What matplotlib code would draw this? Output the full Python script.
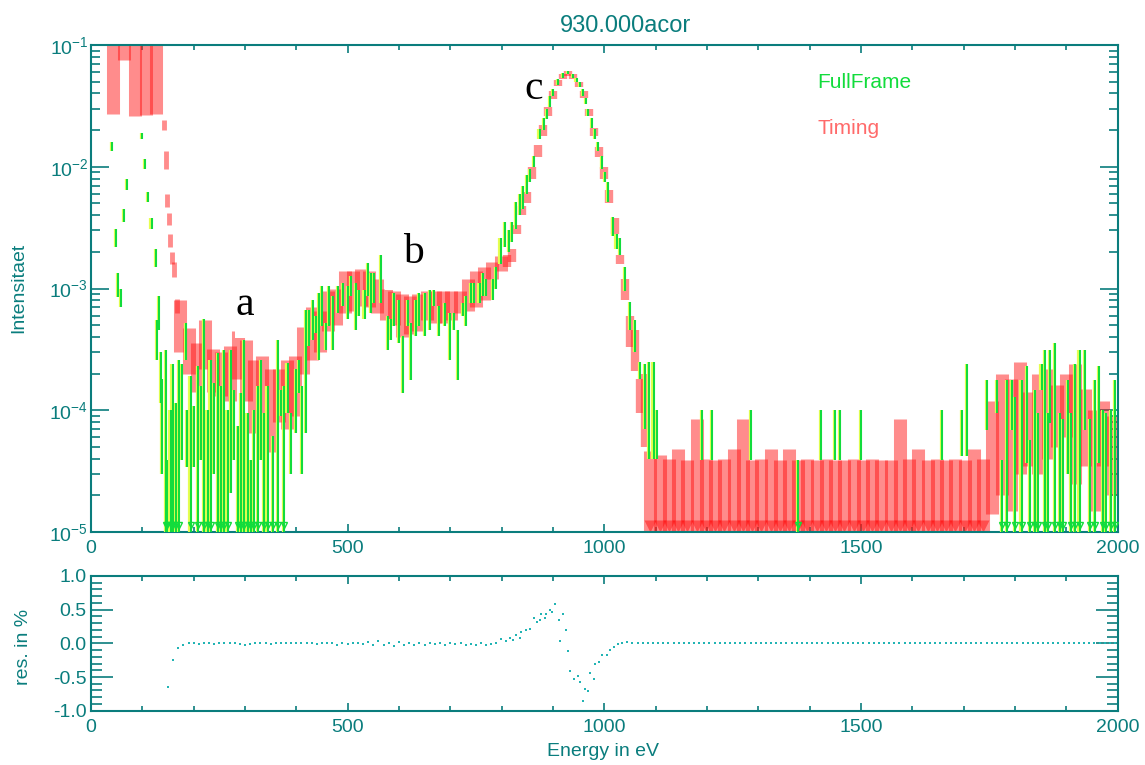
import numpy as np
import matplotlib
matplotlib.use("Agg")
import matplotlib.pyplot as plt
import matplotlib.patheffects as pe
from matplotlib.patches import Rectangle
from matplotlib.ticker import MultipleLocator, LogLocator, NullFormatter, FormatStrFormatter

# ----- data ---------------------------------------------------------
# all intensities in units of 1e-5, energies in eV
# lo == 0 means the error bar runs down to zero (drawn to the axis + "v")

# Timing: saturated block at low energy
tm_sat_e  = [43, 64, 85, 108, 127]
tm_sat_lo = [2700, 7500, 2600, 2650, 2700]
tm_sat_hi = [20000, 20000, 20000, 20000, 20000]

# Timing: steep drop below 170 eV
tm_drop_e  = [143, 146, 148, 151, 154, 158, 162, 167]
tm_drop_lo = [2000, 950, 470, 330, 220, 160, 125, 63]
tm_drop_hi = [2400, 1350, 600, 420, 280, 200, 165, 82]

# Timing: 170 - 800 eV
tm_low_e  = [174, 190, 206, 222, 238, 254, 270, 286, 302, 318,
             334, 350, 366, 382, 398, 414, 430, 446, 462, 478,
             494, 510, 526, 542, 558, 574, 590, 606, 622, 638,
             654, 670, 686, 702, 718, 734, 750, 766, 782, 798]
tm_low_lo = [30, 20, 14, 22, 14, 13, 12, 18, 12, 6.5,
             5, 4.5, 8, 7, 9, 20, 26, 30, 45, 50,
             63, 65, 72, 70, 63, 55, 50, 40, 42, 45,
             55, 52, 52, 55, 63, 65, 70, 80, 120, 140]
tm_low_hi = [80, 47, 36, 55, 32, 30, 34, 45, 38, 26,
             28, 22, 22, 26, 28, 48, 70, 65, 95, 100,
             138, 140, 145, 140, 120, 100, 95, 90, 86, 90,
             95, 95, 95, 95, 95, 120, 138, 150, 165, 185]

# Timing: peak region
tm_peak_e  = [810, 820, 830, 840, 850, 860, 870, 880, 890, 900,
              910, 920, 930, 940, 950, 960, 970, 980, 990, 1000,
              1010, 1020, 1030, 1040, 1050, 1060, 1070, 1080]
tm_peak_lo = [150, 165, 280, 400, 500, 800, 1200, 1800, 2600, 3600,
              4600, 5300, 5600, 5300, 4500, 3700, 2600, 1800, 1200, 800,
              500, 280, 160, 80, 33, 21, 9.5, 5]
tm_peak_hi = [190, 210, 330, 480, 620, 1000, 1500, 2200, 3100, 4200,
              5200, 5800, 6100, 5800, 5000, 4200, 3000, 2100, 1450, 1000,
              650, 380, 190, 120, 60, 46, 18, 20]

# Timing: above 1080 eV
tm_high_e  = [1090, 1108, 1126, 1144, 1162, 1180, 1198, 1216, 1234, 1252,
              1270, 1288, 1306, 1324, 1342, 1360, 1378, 1396, 1414, 1432,
              1450, 1468, 1486, 1504, 1522, 1540, 1558, 1576, 1594, 1612,
              1630, 1648, 1666, 1684, 1702, 1720, 1738,
              1756, 1774, 1792, 1810, 1828, 1846, 1864, 1882, 1900, 1918,
              1936, 1954, 1972, 1990]
tm_high_lo = [0, 0, 0, 0, 0, 0, 0, 0, 0, 0,
              0, 0, 0, 0, 0, 0, 0, 0, 0, 0,
              0, 0, 0, 0, 0, 0, 0, 0, 0, 0,
              0, 0, 0, 0, 0, 0, 0,
              1.4, 2.0, 1.5, 3.0, 3.5, 3.0, 4.0, 5.0, 6.0, 2.5,
              3.5, 1.5, 3.5, 2.0]
tm_high_hi = [4.6, 4.3, 4.0, 4.8, 3.9, 8.5, 4.0, 3.9, 4.0, 4.8,
              8.5, 3.9, 4.0, 4.8, 3.9, 4.8, 3.9, 4.0, 3.9, 4.0,
              3.9, 3.9, 4.0, 3.9, 4.0, 3.9, 3.9, 8.5, 4.0, 4.8,
              3.9, 4.0, 3.9, 4.0, 3.9, 4.8, 4.0,
              12, 20, 18, 25, 14, 20, 22, 16, 20, 24,
              15, 10, 12, 9]

# FullFrame
ff_e  = [41, 49, 53, 59, 64, 71, 100, 106, 112, 118,
         126, 129, 133, 136, 139, 146, 149, 155, 159, 165,
         172, 178, 185, 188, 194, 201, 208, 214, 220, 227,
         233, 240, 247, 253, 260, 266, 273, 279, 286, 292,
         299, 305, 312, 318, 325, 331, 338, 344, 354, 364,
         370, 377, 383, 390, 399, 406, 412, 419, 425, 432,
         438, 445, 451, 458, 464, 471, 481, 491, 500, 507,
         517, 523, 533, 539, 546, 552, 565, 578, 585, 591,
         601, 608, 617, 624, 634, 640, 650, 660, 669, 679,
         689, 699, 708, 715, 725, 731, 741, 747, 757, 764,
         770, 783, 790, 798, 806, 814, 820, 828, 836, 842,
         850, 856, 864, 874, 882, 888, 894, 900, 910, 920,
         930, 940, 946, 952, 959, 964, 969, 976, 982, 988,
         995, 1002, 1008, 1017, 1024, 1030, 1040, 1050, 1060, 1069,
         1079, 1088, 1096, 1103, 1191, 1210, 1286, 1378, 1422, 1449,
         1459, 1500, 1659, 1697, 1707, 1746, 1765, 1775, 1784, 1794,
         1801, 1813, 1823, 1830, 1839, 1846, 1852, 1859, 1865, 1868,
         1878, 1888, 1894, 1904, 1910, 1917, 1926, 1936, 1946, 1956,
         1964, 1972, 1978, 1988, 1996]
ff_lo = [1350, 220, 85, 70, 350, 650, 1700, 950, 510, 310,
         150, 26, 46, 11.5, 3, 0, 0, 0, 0, 0,
         0, 3.9, 26, 3.45, 0, 3.45, 0, 3.9, 0, 0,
         0, 3.0, 0, 0, 0, 0, 2.1, 3.9, 0, 0,
         0, 0, 0, 0, 0, 3.9, 0, 0, 0, 0,
         8.9, 0, 9.5, 3.0, 6.5, 13.8, 3.0, 6.5, 33.5, 38,
         43, 26, 49, 31.5, 49, 31.5, 63, 72, 56, 86,
         46, 59, 56, 86, 63, 76, 76, 31.5, 38, 49,
         36, 13.8, 49, 17.8, 41, 49, 41, 46, 72, 41,
         49, 26, 46, 17.8, 59, 49, 76, 76, 76, 86,
         86, 81, 100, 160, 220, 200, 240, 306, 400, 450,
         600, 750, 1000, 1690, 2000, 2460, 3100, 3800, 4700, 5400,
         5800, 5400, 5000, 4500, 3800, 3300, 2600, 2100, 1690, 1350,
         955, 750, 510, 270, 210, 190, 95, 46, 30, 18,
         7, 4, 4, 4, 3.9, 3.9, 3.9, 0, 3.9, 3.9,
         3.9, 3.9, 3.9, 4.2, 4.2, 6.9, 9.5, 0, 0, 6.9,
         0, 0, 3.7, 0, 0, 0, 14.7, 0, 0, 7.9,
         0, 0, 0, 3.0, 0, 0, 0, 6.9, 0, 0,
         3.7, 0, 0, 0, 0]
ff_hi = [1600, 310, 135, 100, 450, 800, 1900, 1150, 620, 380,
         210, 55, 86, 30, 18, 31.5, 3.9, 10.1, 24, 11.5,
         26, 24, 52, 10.1, 19, 10.8, 23, 15.7, 56, 10.1,
         26, 16.7, 29.5, 15.7, 31.5, 10.1, 31.5, 14.8, 7.4, 13.8,
         38, 9.5, 3.9, 10.1, 15.7, 26, 9.5, 15.7, 6.1, 38,
         14.8, 15.7, 24.4, 9.5, 22, 26, 15.7, 67, 67, 81,
         59, 92, 104, 52, 105, 86, 105, 111, 105, 126,
         111, 98, 98, 163, 134, 134, 190, 59, 56, 92,
         81, 41, 81, 52, 81, 92, 92, 98, 98, 72,
         76, 63, 63, 46, 76, 86, 111, 111, 111, 134,
         119, 119, 150, 260, 350, 300, 350, 510, 600, 690,
         850, 955, 1220, 2040, 2500, 2970, 3800, 4350, 5300, 5900,
         6100, 5800, 5400, 5000, 4350, 3700, 2970, 2500, 2040, 1600,
         1220, 900, 750, 390, 280, 260, 150, 77, 55, 25,
         24, 25, 25, 10, 10.1, 10.1, 10.1, 3.9, 10.1, 10.1,
         10.1, 10.1, 10.1, 10.1, 24, 17.8, 17.8, 3.9, 17.8, 17.8,
         12.9, 17.8, 23, 5.7, 14.7, 9.5, 24, 31.5, 9.5, 31.5,
         35.7, 9.5, 8.4, 17.8, 9.5, 24, 31.5, 31.5, 8.4, 17.8,
         23, 10.1, 9.5, 10.1, 17.8]

# residuals in %
res_low_e = np.arange(150, 780, 10)
res_low = [-0.65, -0.25, -0.07, -0.02, 0.0, 0.0, -0.01, 0.0, 0.0, -0.01,
           0.0, 0.0, 0.0, 0.0, -0.01, -0.03, -0.01, 0.0, 0.0, 0.0,
           -0.01, 0.0, 0.0, 0.0, 0.0, 0.0, 0.01, 0.0, 0.0, -0.01,
           0.0, 0.0, 0.01, -0.02, 0.0, -0.01, 0.01, 0.0, -0.01, 0.02,
           -0.02, 0.03, -0.03, 0.01, -0.04, 0.02, -0.03, 0.0, -0.02, 0.01,
           -0.03, 0.0, -0.01, 0.01, -0.02, 0.0, -0.01, 0.0, -0.02, -0.01,
           -0.02, 0.0, -0.02]
res_peak_e = [780, 790, 799, 808, 816, 822, 829, 835, 838, 847,
              855, 863, 868, 874, 877, 885, 887, 894, 898, 904,
              911, 914, 920, 925, 930, 934, 941, 949, 952, 959,
              962, 968, 972, 980, 982, 990, 996, 1006, 1011, 1019,
              1027, 1035, 1045, 1055]
res_peak = [-0.01, 0.01, 0.06, 0.04, 0.08, 0.05, 0.13, 0.08, 0.17, 0.2,
            0.22, 0.37, 0.32, 0.35, 0.43, 0.37, 0.44, 0.5, 0.47, 0.59,
            0.35, 0.04, 0.43, 0.2, -0.12, -0.41, -0.53, -0.49, -0.58, -0.86,
            -0.68, -0.71, -0.44, -0.53, -0.31, -0.28, -0.18, -0.18, -0.1, -0.06,
            -0.01, 0.01, 0.02, 0.0]
res_high_e = np.arange(1065, 2000, 10)
res_high = [0.0, 0.0, 0.0, 0.0, 0.0, 0.0, 0.0, 0.0, 0.0, 0.0,
            0.0, 0.0, 0.0, 0.0, 0.0, 0.0, 0.0, 0.0, 0.0, 0.0,
            0.0, 0.0, 0.0, 0.0, 0.0, 0.0, 0.0, 0.0, 0.0, 0.0,
            0.0, 0.0, 0.0, 0.0, 0.0, 0.0, 0.0, 0.0, 0.0, 0.0,
            0.0, 0.0, 0.0, 0.0, 0.0, 0.0, 0.0, 0.0, 0.0, 0.0,
            0.0, 0.0, 0.0, 0.0, 0.0, 0.0, 0.0, 0.0, 0.0, 0.0,
            0.0, 0.0, 0.0, 0.0, 0.0, 0.0, 0.0, 0.0, 0.0, 0.0,
            0.0, 0.0, 0.0, 0.0, 0.0, 0.0, 0.0, 0.0, 0.0, 0.0,
            0.0, 0.0, 0.0, 0.0, 0.0, 0.0, 0.0, 0.0, 0.0, 0.0,
            0.0, 0.0, 0.0, 0.0]

# ----- style --------------------------------------------------------

UNIT = 1e-5
TEAL = "#0a7d7d"
GREEN = "#12dc3c"
RED = "#ff1010"
DOT = "#22b4b4"

plt.rcParams["font.family"] = ["Liberation Sans", "DejaVu Sans"]
plt.rcParams["mathtext.default"] = "regular"

W, H = 1145, 765
fig = plt.figure(figsize=(W / 100, H / 100), dpi=100)
ax = fig.add_axes([91 / W, 1 - 532 / H, 1026.5 / W, 487 / H])
axr = fig.add_axes([91 / W, 1 - 710.7 / H, 1026.5 / W, 134.7 / H])


def red_bars(e, lo, hi, lw):
    e = np.asarray(e, float)
    lo = np.asarray(lo, float)
    hi = np.asarray(hi, float)
    bottom = np.where(lo > 0, lo, 0.5) * UNIT
    lc = ax.vlines(e, bottom, hi * UNIT, colors=RED, alpha=0.48, linewidth=lw, zorder=2)
    lc.set_capstyle("butt")
    zero = lo <= 0
    if zero.any():
        ax.plot(e[zero], np.full(zero.sum(), 1.13 * UNIT), "v", ms=9, color=RED,
                alpha=0.5, mec="none", zorder=2)


def green_bars(e, lo, hi):
    e = np.asarray(e, float)
    lo = np.asarray(lo, float)
    hi = np.asarray(hi, float)
    bottom = np.where(lo > 0, lo, 0.5) * UNIT
    lc = ax.vlines(e, bottom, hi * UNIT, colors=GREEN, linewidth=1.5, zorder=3)
    lc.set_capstyle("butt")
    lc.set_path_effects([pe.Stroke(linewidth=1.6, foreground="#e6ff50", offset=(-0.8, 0)),
                         pe.Normal()])
    zero = lo <= 0
    ax.plot(e[zero], np.full(zero.sum(), 1.14 * UNIT), "v", ms=5, mfc="none",
            mec=GREEN, mew=1.0, ls="none", zorder=3)


# ----- top panel ----------------------------------------------------

red_bars(tm_sat_e, tm_sat_lo, tm_sat_hi, 9.4)
red_bars(tm_drop_e, tm_drop_lo, tm_drop_hi, 3.5)
red_bars(tm_low_e, tm_low_lo, tm_low_hi, 9.4)
red_bars(tm_peak_e, tm_peak_lo, tm_peak_hi, 6.0)
red_bars(tm_high_e, tm_high_lo, tm_high_hi, 9.4)
green_bars(ff_e, ff_lo, ff_hi)

ax.set_yscale("log")
ax.set_ylim(1e-5, 1e-1)
ax.yaxis.set_major_locator(LogLocator(base=10, numticks=10))
ax.yaxis.set_minor_locator(LogLocator(base=10, subs=np.arange(2, 10), numticks=20))
ax.yaxis.set_minor_formatter(NullFormatter())

# white label boxes as in the original
for (x0, x1, y0, y1) in [(281, 362, 3.9e-4, 1.2e-3), (572, 714, 9.7e-4, 3.0e-3)]:
    ax.add_patch(Rectangle((x0, y0), x1 - x0, y1 - y0, facecolor="white",
                           edgecolor="none", zorder=5))
serif = ["Liberation Serif", "DejaVu Serif"]
ax.text(300, 7.3e-4, "a", family=serif, fontsize=30, ha="center", va="center", zorder=6)
ax.text(628, 1.95e-3, "b", family=serif, fontsize=30, ha="center", va="center", zorder=6)
ax.text(862, 4.4e-2, "c", family=serif, fontsize=30, ha="center", va="center", zorder=6)

# ----- residual panel -----------------------------------------------

axr.plot(res_low_e, res_low, "s", ms=2.0, color=DOT, mew=0)
axr.plot(res_peak_e, res_peak, "s", ms=2.0, color=DOT, mew=0)
axr.plot(res_high_e, res_high, "s", ms=2.0, color=DOT, mew=0)
axr.set_ylim(-1, 1)
axr.yaxis.set_major_locator(MultipleLocator(0.5))
axr.yaxis.set_minor_locator(MultipleLocator(0.1))
axr.yaxis.set_major_formatter(FormatStrFormatter("%.1f"))

# ----- axes formatting ----------------------------------------------

for a in (ax, axr):
    a.set_xlim(0, 2000)
    a.xaxis.set_major_locator(MultipleLocator(500))
    a.xaxis.set_minor_locator(MultipleLocator(100))
    for s in a.spines.values():
        s.set_color(TEAL)
        s.set_linewidth(1.5)
    a.tick_params(which="both", direction="in", top=True, right=True,
                  color=TEAL, labelcolor=TEAL, width=1.2, labelsize=14)
    a.tick_params(axis="x", which="major", length=6, pad=6)
    a.tick_params(axis="x", which="minor", length=3.5)

ax.tick_params(axis="y", which="major", length=13, pad=2)
ax.tick_params(axis="y", which="minor", length=6.5)
axr.tick_params(axis="y", which="major", length=16, pad=3)
axr.tick_params(axis="y", which="minor", length=8)

fig.text(625 / W, 1 - 26 / H, "930.000acor", color=TEAL, fontsize=17,
         ha="center", va="center")
fig.text(817 / W, 1 - 83 / H, "FullFrame", color=GREEN, fontsize=15,
         ha="left", va="center")
fig.text(817 / W, 1 - 129 / H, "Timing", color="#ff6a6a", fontsize=15,
         ha="left", va="center")
fig.text(19 / W, 1 - 288 / H, "Intensitaet", color=TEAL, fontsize=14,
         rotation=90, ha="center", va="center")
fig.text(24 / W, 1 - 647 / H, "res. in %", color=TEAL, fontsize=14,
         rotation=90, ha="center", va="center")
fig.text(603 / W, 1 - 752 / H, "Energy in eV", color=TEAL, fontsize=14,
         ha="center", va="center")

fig.savefig("out.png", dpi=100)
